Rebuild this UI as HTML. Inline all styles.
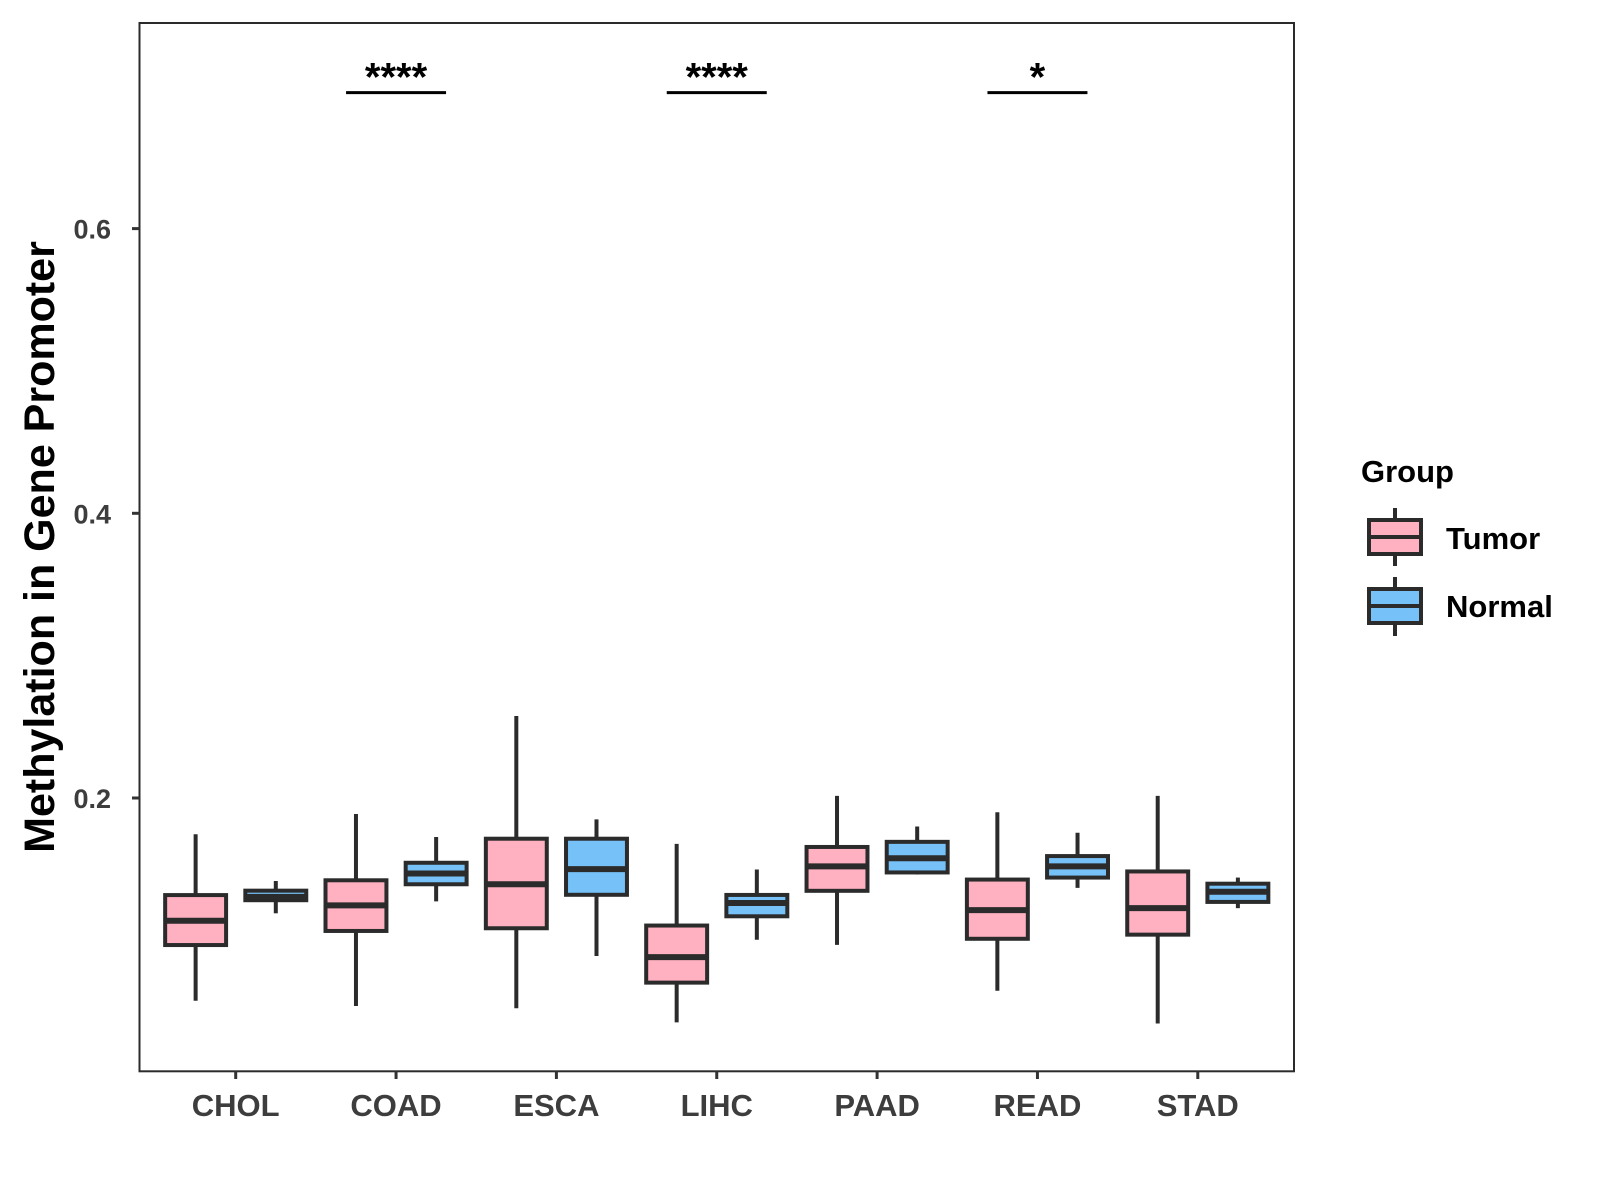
<!DOCTYPE html>
<html><head><meta charset="utf-8"><style>
html,body{margin:0;padding:0;background:#fff;}
svg{display:block;font-family:"Liberation Sans",Arial,sans-serif;}
</style></head><body>
<svg id="chart" width="1600" height="1200" viewBox="0 0 1600 1200">
<rect x="0" y="0" width="1600" height="1200" fill="#fff"/>
<g id="marks"></g>
<rect x="139.5" y="23" width="1154.5" height="1048.3" fill="none" stroke="#2b2b2b" stroke-width="2"/>
<g id="axes"></g>
<text transform="translate(54,547) rotate(-90)" text-anchor="middle" font-size="43" font-weight="bold" fill="#000">Methylation in Gene Promoter</text>
<g>
<text x="1361" y="482" font-size="31" font-weight="bold" fill="#000">Group</text>
<g>
<line x1="1395" y1="508" x2="1395" y2="566" stroke="#2b2b2b" stroke-width="4"/>
<rect x="1369" y="520" width="52" height="34" fill="#FFB0C1" stroke="#2b2b2b" stroke-width="4"/>
<line x1="1369" y1="537" x2="1421" y2="537" stroke="#2b2b2b" stroke-width="4"/>
<text x="1446" y="549" font-size="31" font-weight="bold" fill="#000">Tumor</text>
</g>
<g>
<line x1="1395" y1="577" x2="1395" y2="636" stroke="#2b2b2b" stroke-width="4"/>
<rect x="1369" y="589" width="52" height="34" fill="#76C1F8" stroke="#2b2b2b" stroke-width="4"/>
<line x1="1369" y1="606" x2="1421" y2="606" stroke="#2b2b2b" stroke-width="4"/>
<text x="1446" y="617" font-size="31" font-weight="bold" fill="#000">Normal</text>
</g>
</g>
</svg>
<script>
const categories = ["CHOL","COAD","ESCA","LIHC","PAAD","READ","STAD"];
// [whiskerLow, q1, median, q3, whiskerHigh]
const tumorStats = [
 [0.0576,0.0967,0.1138,0.1318,0.1745],
 [0.0539,0.1066,0.1246,0.1422,0.1888],
 [0.0523,0.1085,0.1394,0.1714,0.2576],
 [0.0424,0.0703,0.0882,0.1104,0.1678],
 [0.0968,0.1348,0.1520,0.1656,0.2015],
 [0.0646,0.1011,0.1212,0.1427,0.1900],
 [0.0416,0.1040,0.1226,0.1484,0.2015]
];
const normalStats = [
 [0.1190,0.1282,0.1305,0.1349,0.1417],
 [0.1274,0.1394,0.1470,0.1545,0.1726],
 [0.0890,0.1320,0.1500,0.1714,0.1850],
 [0.1004,0.1169,0.1262,0.1319,0.1498],
 [0.1463,0.1477,0.1577,0.1692,0.1800],
 [0.1369,0.1441,0.1520,0.1592,0.1756],
 [0.1226,0.1270,0.1341,0.1398,0.1441]
];
const yTicks = [0.2,0.4,0.6];
const yTickLabels = ["0.2","0.4","0.6"];
const sigCategories = ["COAD","LIHC","READ"];
const sigLabels = ["****","****","*"];
const sigLevel = 0.6955;

const NS="http://www.w3.org/2000/svg";
const left=139.5, right=1294, step=(right-left)/7.2;
function x(i){return left+(i+0.6)*step;}
function y(v){return 798-(v-0.2)*1423.5;}
const marks=document.getElementById('marks'), axes=document.getElementById('axes');
function mk(tag,attrs,parent){const e=document.createElementNS(NS,tag);for(const k in attrs)e.setAttribute(k,attrs[k]);parent.appendChild(e);return e;}
const bw=step*0.38;
function drawBox(cx,s,fill,name){
  const g=mk('g',{},marks);
  
  
  mk('line',{x1:cx,x2:cx,y1:y(s[0]),y2:y(s[4]),stroke:'#2b2b2b','stroke-width':4},g);
  mk('rect',{x:cx-bw/2,y:y(s[3]),width:bw,height:y(s[1])-y(s[3]),fill:fill,stroke:'#2b2b2b','stroke-width':4},g);
  mk('line',{x1:cx-bw/2,x2:cx+bw/2,y1:y(s[2]),y2:y(s[2]),stroke:'#2b2b2b','stroke-width':6},g);
}
categories.forEach((c,i)=>{
  drawBox(x(i)-step*0.25,tumorStats[i],'#FFB0C1','box-tumor-'+c.toLowerCase());
  drawBox(x(i)+step*0.25,normalStats[i],'#76C1F8','box-normal-'+c.toLowerCase());
  const t=mk('line',{x1:x(i),x2:x(i),y1:1071.3,y2:1079,stroke:'#333','stroke-width':3},axes);
  
  
  const l=mk('text',{x:x(i),y:1116,'text-anchor':'middle','font-size':31,'font-weight':'bold',fill:'#3d3d3d'},axes);
  l.textContent=c;
  
  
});
yTicks.forEach((v,i)=>{
  const t=mk('line',{x1:132,x2:139.5,y1:y(v),y2:y(v),stroke:'#333','stroke-width':3},axes);
  
  
  const l=mk('text',{x:111,y:y(v)+10,'text-anchor':'end','font-size':27,'font-weight':'bold',fill:'#3d3d3d'},axes);
  l.textContent=yTickLabels[i];
  
  
});
sigCategories.forEach((c,k)=>{
  const i=categories.indexOf(c);
  const g=mk('g',{},marks);
  
  
  mk('line',{x1:x(i)-50,x2:x(i)+50,y1:y(sigLevel),y2:y(sigLevel),stroke:'#000','stroke-width':3},g);
  const t=mk('text',{x:x(i),y:y(sigLevel)-2,'text-anchor':'middle','font-size':40,'font-weight':'bold',fill:'#000'},g);
  t.textContent=sigLabels[k];
});
</script>
</body></html>
